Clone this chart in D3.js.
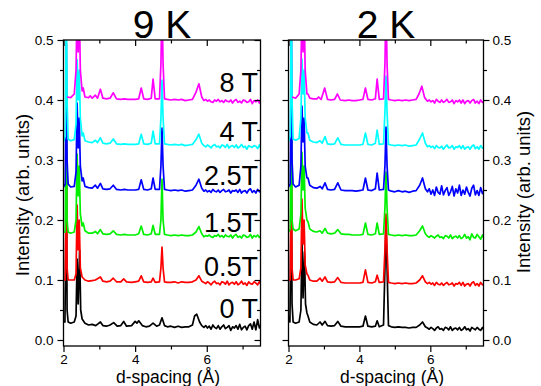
<!DOCTYPE html>
<html><head><meta charset="utf-8">
<script src="https://cdn.jsdelivr.net/npm/d3@7"></script>
<style>body{margin:0;background:#fff}svg{display:block}text{font-family:Arial,"Liberation Sans",sans-serif}</style>
</head><body><svg id="c" width="541" height="386"></svg>
<script>
const fieldLabels = ["0 T","0.5T","1.5T","2.5T","4 T","8 T"];
const panelTitles = ["9 K","2 K"];
const xTicks = [2,4,6];
const xMinor = [3,5,7];
const yTicks = [0,0.1,0.2,0.3,0.4,0.5];
const yMinor = [0.05,0.15,0.25,0.35,0.45];
const colors = ["#000000","#ff0000","#00f000","#0000ff","#00ffff","#ff00ff"];

// d-spacing grid of the noisy high-d tail (5.92 .. 7.5 Å)
const tailD = [5.92,5.97,6.02,6.07,6.12,6.17,6.22,6.27,6.32,6.37,6.42,6.47,6.52,6.57,6.62,6.67,6.72,6.77,6.82,6.87,6.92,6.97,7.02,7.07,7.12,7.17,7.22,7.27,7.32,7.37,7.42,7.47,7.5];

// ---- 9 K panel: [d, intensity] up to 5.86 Å, then tail intensities ----
const k9_0T = [[2.0,0.03],[2.04,0.03],[2.07,0.2],[2.08,0.3],[2.1,0.05],[2.13,0.03],[2.2,0.028],[2.3,0.03],[2.35,0.04],[2.38,0.135],[2.41,0.06],[2.45,0.15],[2.48,0.05],[2.52,0.035],[2.6,0.028],[2.7,0.025],[2.8,0.026],[2.9,0.024],[3.03,0.03],[3.1,0.024],[3.2,0.023],[3.3,0.025],[3.4,0.029],[3.5,0.023],[3.6,0.024],[3.68,0.031],[3.76,0.023],[3.9,0.024],[4.0,0.031],[4.05,0.028],[4.1,0.032],[4.2,0.024],[4.3,0.022],[4.4,0.023],[4.5,0.028],[4.6,0.023],[4.68,0.025],[4.75,0.037],[4.82,0.024],[4.9,0.022],[5.0,0.023],[5.1,0.021],[5.2,0.023],[5.3,0.021],[5.4,0.022],[5.5,0.022],[5.6,0.025],[5.66,0.04],[5.72,0.043],[5.8,0.03],[5.86,0.024]];
const k9_0T_tail = [0.021,0.024,0.020,0.023,0.018,0.025,0.021,0.019,0.024,0.018,0.022,0.025,0.019,0.021,0.024,0.016,0.022,0.020,0.024,0.018,0.026,0.017,0.021,0.023,0.017,0.024,0.027,0.018,0.03,0.017,0.034,0.02,0.024];
const k9_05T = [[2.0,0.1],[2.05,0.1],[2.07,0.25],[2.08,0.34],[2.1,0.12],[2.13,0.1],[2.2,0.1],[2.3,0.1],[2.35,0.11],[2.38,0.225],[2.41,0.15],[2.44,0.2],[2.47,0.12],[2.52,0.105],[2.6,0.1],[2.7,0.098],[2.8,0.099],[2.89,0.1],[3.03,0.105],[3.1,0.098],[3.2,0.097],[3.3,0.098],[3.39,0.103],[3.48,0.097],[3.6,0.097],[3.68,0.102],[3.76,0.097],[3.9,0.096],[4.0,0.097],[4.1,0.098],[4.17,0.107],[4.24,0.097],[4.35,0.096],[4.45,0.097],[4.5,0.103],[4.56,0.096],[4.68,0.097],[4.72,0.12],[4.75,0.155],[4.78,0.12],[4.82,0.097],[4.9,0.096],[5.0,0.096],[5.1,0.097],[5.2,0.095],[5.3,0.097],[5.4,0.096],[5.5,0.096],[5.6,0.097],[5.7,0.1],[5.78,0.107],[5.86,0.098]];
const k9_05T_tail = [0.096,0.094,0.097,0.095,0.092,0.096,0.098,0.094,0.095,0.092,0.097,0.096,0.093,0.098,0.092,0.095,0.096,0.093,0.097,0.092,0.094,0.098,0.093,0.095,0.091,0.097,0.094,0.093,0.097,0.095,0.092,0.097,0.094];
const k9_15T = [[2.0,0.18],[2.05,0.18],[2.07,0.35],[2.08,0.415],[2.1,0.2],[2.13,0.18],[2.2,0.178],[2.3,0.18],[2.35,0.2],[2.38,0.31],[2.41,0.24],[2.44,0.29],[2.47,0.21],[2.52,0.19],[2.55,0.195],[2.6,0.182],[2.7,0.178],[2.8,0.178],[2.89,0.181],[2.95,0.177],[3.03,0.184],[3.1,0.177],[3.2,0.176],[3.3,0.177],[3.39,0.182],[3.48,0.176],[3.6,0.175],[3.7,0.176],[3.8,0.175],[3.9,0.175],[4.0,0.175],[4.1,0.177],[4.17,0.19],[4.24,0.176],[4.35,0.175],[4.45,0.177],[4.5,0.191],[4.56,0.176],[4.68,0.176],[4.72,0.2],[4.75,0.268],[4.78,0.2],[4.82,0.176],[4.9,0.175],[5.0,0.174],[5.1,0.175],[5.2,0.174],[5.3,0.175],[5.4,0.174],[5.5,0.174],[5.6,0.175],[5.7,0.18],[5.78,0.189],[5.86,0.177]];
const k9_15T_tail = [0.172,0.174,0.173,0.175,0.172,0.171,0.174,0.173,0.176,0.172,0.174,0.171,0.175,0.173,0.172,0.175,0.17,0.174,0.176,0.171,0.173,0.17,0.175,0.174,0.171,0.172,0.176,0.17,0.174,0.172,0.175,0.171,0.173];
const k9_25T = [[2.0,0.255],[2.05,0.26],[2.07,0.42],[2.08,0.495],[2.1,0.3],[2.13,0.26],[2.2,0.255],[2.3,0.256],[2.35,0.28],[2.38,0.395],[2.41,0.32],[2.44,0.37],[2.47,0.29],[2.52,0.265],[2.55,0.27],[2.6,0.256],[2.7,0.254],[2.8,0.253],[2.89,0.258],[2.95,0.253],[3.03,0.261],[3.1,0.252],[3.2,0.251],[3.3,0.252],[3.39,0.258],[3.48,0.251],[3.6,0.25],[3.7,0.251],[3.8,0.25],[3.9,0.25],[4.0,0.25],[4.1,0.251],[4.17,0.267],[4.24,0.251],[4.35,0.25],[4.45,0.252],[4.5,0.27],[4.56,0.251],[4.68,0.251],[4.72,0.29],[4.75,0.353],[4.78,0.29],[4.82,0.251],[4.9,0.25],[5.0,0.249],[5.1,0.25],[5.2,0.249],[5.3,0.25],[5.4,0.248],[5.5,0.249],[5.6,0.25],[5.7,0.258],[5.78,0.268],[5.86,0.253]];
const k9_25T_tail = [0.248,0.25,0.247,0.249,0.246,0.251,0.248,0.247,0.25,0.246,0.249,0.251,0.247,0.248,0.25,0.245,0.249,0.248,0.25,0.246,0.251,0.245,0.248,0.249,0.245,0.25,0.252,0.246,0.249,0.245,0.251,0.247,0.248];
const k9_4T = [[2.0,0.33],[2.05,0.34],[2.07,0.5],[2.08,0.56],[2.1,0.4],[2.13,0.335],[2.2,0.332],[2.3,0.334],[2.35,0.36],[2.38,0.467],[2.41,0.4],[2.44,0.45],[2.47,0.37],[2.52,0.34],[2.55,0.345],[2.6,0.332],[2.7,0.33],[2.8,0.329],[2.89,0.333],[2.95,0.329],[3.03,0.337],[3.1,0.328],[3.2,0.327],[3.3,0.328],[3.39,0.335],[3.48,0.327],[3.6,0.326],[3.7,0.327],[3.8,0.326],[3.9,0.326],[4.0,0.326],[4.1,0.327],[4.17,0.343],[4.24,0.327],[4.35,0.326],[4.45,0.328],[4.5,0.348],[4.56,0.327],[4.68,0.327],[4.72,0.37],[4.75,0.433],[4.78,0.37],[4.82,0.327],[4.9,0.326],[5.0,0.325],[5.1,0.326],[5.2,0.325],[5.3,0.326],[5.4,0.324],[5.5,0.325],[5.6,0.326],[5.7,0.334],[5.78,0.343],[5.86,0.328]];
const k9_4T_tail = [0.324,0.322,0.325,0.323,0.32,0.324,0.326,0.322,0.323,0.32,0.325,0.324,0.321,0.326,0.32,0.323,0.324,0.321,0.325,0.32,0.322,0.326,0.321,0.323,0.318,0.324,0.322,0.321,0.324,0.323,0.319,0.325,0.321];
const k9_8T = [[2.1,0.405],[2.2,0.404],[2.3,0.41],[2.35,0.45],[2.38,0.56],[2.41,0.48],[2.44,0.56],[2.47,0.45],[2.52,0.415],[2.55,0.42],[2.6,0.405],[2.7,0.404],[2.75,0.407],[2.8,0.403],[2.89,0.408],[2.95,0.403],[3.03,0.418],[3.1,0.403],[3.2,0.402],[3.3,0.403],[3.39,0.412],[3.48,0.402],[3.6,0.401],[3.7,0.402],[3.8,0.401],[3.9,0.401],[4.0,0.401],[4.1,0.402],[4.17,0.42],[4.24,0.402],[4.35,0.401],[4.45,0.403],[4.5,0.435],[4.56,0.402],[4.68,0.402],[4.72,0.46],[4.75,0.56],[4.78,0.46],[4.82,0.402],[4.9,0.401],[5.0,0.4],[5.1,0.401],[5.2,0.4],[5.3,0.401],[5.4,0.399],[5.5,0.4],[5.6,0.401],[5.7,0.413],[5.78,0.427],[5.86,0.405]];
const k9_8T_tail = [0.399,0.401,0.398,0.4,0.397,0.396,0.4,0.398,0.401,0.397,0.399,0.396,0.4,0.398,0.397,0.4,0.395,0.399,0.401,0.396,0.398,0.395,0.4,0.399,0.396,0.397,0.401,0.394,0.399,0.397,0.4,0.395,0.398];

// ---- 2 K panel ----
const k2_0T = [[2.0,0.04],[2.04,0.03],[2.07,0.2],[2.08,0.275],[2.1,0.06],[2.13,0.03],[2.2,0.028],[2.3,0.03],[2.35,0.05],[2.38,0.165],[2.41,0.07],[2.45,0.147],[2.48,0.06],[2.52,0.045],[2.55,0.04],[2.6,0.03],[2.7,0.026],[2.8,0.025],[2.89,0.03],[2.95,0.025],[3.03,0.031],[3.1,0.024],[3.2,0.023],[3.3,0.024],[3.39,0.031],[3.48,0.023],[3.6,0.022],[3.7,0.022],[3.8,0.022],[3.9,0.022],[4.0,0.022],[4.1,0.023],[4.17,0.04],[4.24,0.023],[4.35,0.022],[4.45,0.023],[4.5,0.032],[4.56,0.022],[4.68,0.025],[4.72,0.12],[4.75,0.2],[4.78,0.12],[4.82,0.024],[4.9,0.022],[5.0,0.021],[5.1,0.022],[5.2,0.021],[5.3,0.021],[5.4,0.02],[5.5,0.021],[5.6,0.021],[5.7,0.025],[5.78,0.03],[5.86,0.022]];
const k2_0T_tail = [0.02,0.018,0.021,0.019,0.016,0.02,0.022,0.018,0.019,0.016,0.021,0.02,0.017,0.022,0.016,0.019,0.02,0.017,0.021,0.016,0.018,0.022,0.017,0.019,0.015,0.021,0.019,0.017,0.021,0.018,0.016,0.021,0.018];
const k2_05T = [[2.0,0.1],[2.05,0.1],[2.07,0.26],[2.08,0.335],[2.1,0.12],[2.13,0.1],[2.2,0.1],[2.3,0.102],[2.35,0.12],[2.38,0.235],[2.41,0.16],[2.44,0.2],[2.47,0.125],[2.52,0.11],[2.55,0.108],[2.6,0.1],[2.7,0.098],[2.8,0.098],[2.89,0.103],[2.95,0.098],[3.03,0.105],[3.1,0.097],[3.2,0.096],[3.3,0.097],[3.39,0.104],[3.48,0.096],[3.6,0.095],[3.7,0.095],[3.8,0.095],[3.9,0.095],[4.0,0.095],[4.1,0.096],[4.17,0.117],[4.24,0.096],[4.35,0.095],[4.45,0.097],[4.5,0.108],[4.56,0.096],[4.68,0.097],[4.72,0.15],[4.75,0.21],[4.78,0.15],[4.82,0.096],[4.9,0.095],[5.0,0.094],[5.1,0.095],[5.2,0.094],[5.3,0.095],[5.4,0.094],[5.5,0.094],[5.6,0.095],[5.7,0.1],[5.78,0.107],[5.86,0.097]];
const k2_05T_tail = [0.094,0.096,0.093,0.095,0.091,0.096,0.093,0.092,0.095,0.091,0.094,0.096,0.092,0.093,0.095,0.09,0.094,0.093,0.096,0.091,0.096,0.09,0.093,0.094,0.09,0.095,0.097,0.091,0.094,0.09,0.096,0.092,0.093];
const k2_15T = [[2.0,0.18],[2.05,0.185],[2.07,0.35],[2.08,0.418],[2.1,0.2],[2.13,0.185],[2.2,0.182],[2.3,0.185],[2.35,0.21],[2.38,0.313],[2.41,0.25],[2.44,0.29],[2.47,0.22],[2.52,0.2],[2.55,0.197],[2.6,0.185],[2.7,0.181],[2.8,0.18],[2.89,0.182],[2.95,0.178],[3.03,0.186],[3.1,0.178],[3.2,0.177],[3.3,0.178],[3.39,0.184],[3.48,0.177],[3.6,0.176],[3.7,0.176],[3.8,0.175],[3.9,0.175],[4.0,0.175],[4.1,0.176],[4.17,0.195],[4.24,0.176],[4.35,0.175],[4.45,0.177],[4.5,0.195],[4.56,0.176],[4.68,0.177],[4.72,0.22],[4.75,0.28],[4.78,0.22],[4.82,0.176],[4.9,0.175],[5.0,0.174],[5.1,0.175],[5.2,0.174],[5.3,0.175],[5.4,0.174],[5.5,0.174],[5.6,0.175],[5.7,0.182],[5.78,0.19],[5.86,0.177]];
const k2_15T_tail = [0.173,0.171,0.174,0.172,0.17,0.173,0.175,0.171,0.172,0.169,0.174,0.173,0.17,0.175,0.169,0.172,0.173,0.17,0.174,0.169,0.171,0.176,0.17,0.172,0.167,0.177,0.171,0.17,0.176,0.172,0.168,0.175,0.171];
const k2_25T = [[2.0,0.255],[2.05,0.26],[2.07,0.43],[2.08,0.56],[2.1,0.3],[2.13,0.26],[2.2,0.255],[2.3,0.258],[2.35,0.29],[2.38,0.39],[2.41,0.33],[2.44,0.37],[2.47,0.29],[2.52,0.27],[2.55,0.27],[2.6,0.258],[2.7,0.254],[2.8,0.253],[2.89,0.256],[2.95,0.252],[3.03,0.262],[3.1,0.251],[3.2,0.25],[3.3,0.251],[3.39,0.262],[3.48,0.25],[3.6,0.249],[3.7,0.249],[3.8,0.249],[3.9,0.248],[4.0,0.249],[4.1,0.25],[4.17,0.27],[4.24,0.25],[4.35,0.249],[4.45,0.252],[4.5,0.278],[4.56,0.25],[4.68,0.251],[4.72,0.29],[4.75,0.355],[4.78,0.29],[4.82,0.25],[4.9,0.248],[5.0,0.247],[5.1,0.249],[5.2,0.247],[5.3,0.248],[5.4,0.246],[5.5,0.248],[5.6,0.249],[5.7,0.258],[5.78,0.27],[5.86,0.252]];
const k2_25T_tail = [0.247,0.252,0.243,0.25,0.241,0.255,0.246,0.243,0.257,0.242,0.249,0.254,0.241,0.247,0.256,0.24,0.252,0.245,0.258,0.241,0.25,0.243,0.255,0.246,0.24,0.253,0.258,0.242,0.249,0.241,0.254,0.244,0.247];
const k2_4T = [[2.0,0.33],[2.05,0.34],[2.07,0.5],[2.08,0.56],[2.1,0.4],[2.13,0.335],[2.2,0.333],[2.3,0.336],[2.35,0.37],[2.38,0.468],[2.41,0.41],[2.44,0.45],[2.47,0.37],[2.52,0.345],[2.55,0.345],[2.6,0.333],[2.7,0.33],[2.8,0.329],[2.89,0.332],[2.95,0.328],[3.03,0.339],[3.1,0.327],[3.2,0.326],[3.3,0.327],[3.39,0.337],[3.48,0.326],[3.6,0.325],[3.7,0.325],[3.8,0.325],[3.9,0.325],[4.0,0.325],[4.1,0.326],[4.17,0.345],[4.24,0.326],[4.35,0.325],[4.45,0.328],[4.5,0.35],[4.56,0.326],[4.68,0.327],[4.72,0.38],[4.75,0.44],[4.78,0.38],[4.82,0.326],[4.9,0.325],[5.0,0.324],[5.1,0.325],[5.2,0.324],[5.3,0.325],[5.4,0.323],[5.5,0.324],[5.6,0.325],[5.7,0.335],[5.78,0.345],[5.86,0.328]];
const k2_4T_tail = [0.322,0.324,0.321,0.323,0.319,0.324,0.321,0.32,0.323,0.318,0.322,0.325,0.32,0.321,0.324,0.318,0.322,0.321,0.324,0.319,0.324,0.318,0.321,0.322,0.318,0.323,0.325,0.319,0.322,0.318,0.324,0.32,0.321];
const k2_8T = [[2.1,0.405],[2.2,0.403],[2.3,0.41],[2.35,0.45],[2.38,0.56],[2.41,0.48],[2.44,0.56],[2.47,0.45],[2.52,0.41],[2.55,0.41],[2.6,0.403],[2.7,0.402],[2.8,0.402],[2.85,0.405],[2.92,0.401],[3.02,0.42],[3.1,0.401],[3.2,0.4],[3.3,0.401],[3.38,0.41],[3.46,0.4],[3.6,0.399],[3.7,0.4],[3.8,0.399],[3.9,0.399],[4.0,0.4],[4.1,0.401],[4.17,0.42],[4.24,0.401],[4.35,0.4],[4.45,0.402],[4.5,0.435],[4.56,0.401],[4.68,0.402],[4.72,0.46],[4.75,0.56],[4.78,0.46],[4.82,0.401],[4.9,0.4],[5.0,0.399],[5.1,0.4],[5.2,0.399],[5.3,0.4],[5.4,0.399],[5.5,0.4],[5.6,0.401],[5.68,0.41],[5.76,0.423],[5.84,0.404]];
const k2_8T_tail = [0.398,0.4,0.397,0.399,0.395,0.401,0.398,0.396,0.4,0.396,0.398,0.401,0.396,0.397,0.4,0.394,0.399,0.397,0.4,0.395,0.4,0.394,0.398,0.399,0.395,0.399,0.401,0.395,0.398,0.394,0.4,0.396,0.397];

const withTail = (head, tail) => head.concat(tailD.map((d,i)=>[d, tail[i]]));
const panelSeries = [
  [withTail(k9_0T,k9_0T_tail),withTail(k9_05T,k9_05T_tail),withTail(k9_15T,k9_15T_tail),withTail(k9_25T,k9_25T_tail),withTail(k9_4T,k9_4T_tail),withTail(k9_8T,k9_8T_tail)],
  [withTail(k2_0T,k2_0T_tail),withTail(k2_05T,k2_05T_tail),withTail(k2_15T,k2_15T_tail),withTail(k2_25T,k2_25T_tail),withTail(k2_4T,k2_4T_tail),withTail(k2_8T,k2_8T_tail)]
];

const svg = d3.select("#c");
const plotBottom = 346;
const y = d3.scaleLinear().domain([-0.01,0.5]).range([plotBottom, 40]);
const panels = [{x0:63.5,x1:260.5,side:"left"},{x0:288.5,x1:483.5,side:"right"}];

panels.forEach((p,pi)=>{
  const x = d3.scaleLinear().domain([2,7.5]).range([p.x0,p.x1]);
  const g = svg.append("g");
  const cid = "clip"+pi;
  svg.append("clipPath").attr("id",cid).append("rect")
    .attr("x",p.x0).attr("y",y(0.5)).attr("width",p.x1-p.x0).attr("height",plotBottom-y(0.5));
  const line = d3.line().x(d=>x(d[0])).y(d=>y(d[1]));
  const lg = g.append("g").attr("clip-path",`url(#${cid})`);
  panelSeries[pi].forEach((s,i)=>{
    lg.append("path").datum(s).attr("d",line).attr("fill","none")
      .attr("stroke",colors[i]).attr("stroke-width",1.7).attr("stroke-linejoin","round");
  });
  const styleAx = sel => { sel.select(".domain").remove(); sel.selectAll("line").attr("stroke","#000").attr("stroke-width",1.2); sel.selectAll("text").attr("font-size",13.5).attr("fill","#000").style("font-family","Arial, 'Liberation Sans', sans-serif"); };
  g.append("g").attr("transform",`translate(0,${plotBottom})`)
    .call(d3.axisBottom(x).tickValues(xTicks).tickSize(6).tickPadding(2).tickFormat(d3.format("d"))).call(styleAx);
  g.append("g").attr("transform",`translate(0,${plotBottom})`)
    .call(d3.axisBottom(x).tickValues(xMinor).tickSize(3.5).tickFormat("")).call(styleAx);
  g.append("g").attr("transform",`translate(0,${y(0.5)})`)
    .call(d3.axisTop(x).tickValues(xTicks).tickSize(-6).tickFormat("")).call(styleAx);
  g.append("g").attr("transform",`translate(0,${y(0.5)})`)
    .call(d3.axisTop(x).tickValues(xMinor).tickSize(-3.5).tickFormat("")).call(styleAx);
  const leftLab = p.side==="left";
  g.append("g").attr("transform",`translate(${p.x0},0)`)
    .call(d3.axisLeft(y).tickValues(yTicks).tickSize(6).tickPadding(4).tickFormat(leftLab?d3.format(".1f"):"")).call(styleAx);
  g.append("g").attr("transform",`translate(${p.x0},0)`)
    .call(d3.axisLeft(y).tickValues(yMinor).tickSize(3.5).tickFormat("")).call(styleAx);
  if (leftLab) {
    g.append("g").attr("transform",`translate(${p.x1},0)`)
      .call(d3.axisRight(y).tickValues(yTicks).tickSize(-6).tickFormat("")).call(styleAx);
    g.append("g").attr("transform",`translate(${p.x1},0)`)
      .call(d3.axisRight(y).tickValues(yMinor).tickSize(-3.5).tickFormat("")).call(styleAx);
  } else {
    g.append("g").attr("transform",`translate(${p.x1},0)`)
      .call(d3.axisRight(y).tickValues(yTicks).tickSize(6).tickPadding(3).tickFormat(d3.format(".1f"))).call(styleAx);
    g.append("g").attr("transform",`translate(${p.x1},0)`)
      .call(d3.axisRight(y).tickValues(yMinor).tickSize(3.5).tickFormat("")).call(styleAx);
  }
  g.append("rect").attr("x",p.x0).attr("y",y(0.5)).attr("width",p.x1-p.x0).attr("height",plotBottom-y(0.5))
    .attr("fill","none").attr("stroke","#000").attr("stroke-width",1.3);
  g.append("text").attr("x",(p.x0+p.x1)/2).attr("y",38).attr("text-anchor","middle")
    .attr("font-size",39).text(panelTitles[pi]);
  g.append("text").attr("x",(p.x0+p.x1)/2+6).attr("y",383).attr("text-anchor","middle")
    .attr("font-size",17.5).text("d-spacing (Å)");
});

const labelY = [318,276,231.5,185,140.5,92];
fieldLabels.forEach((t,i)=>{
  svg.append("text").attr("x",258).attr("y",labelY[i]).attr("text-anchor","end")
    .attr("font-size",27).text(t);
});
svg.append("text").attr("transform","translate(28.5,195) rotate(-90)").attr("text-anchor","middle")
  .attr("font-size",18.5).text("Intensity (arb. units)");
svg.append("text").attr("transform","translate(530,192) rotate(-90)").attr("text-anchor","middle")
  .attr("font-size",18.5).text("Intensity (arb. units)");
</script></body></html>
